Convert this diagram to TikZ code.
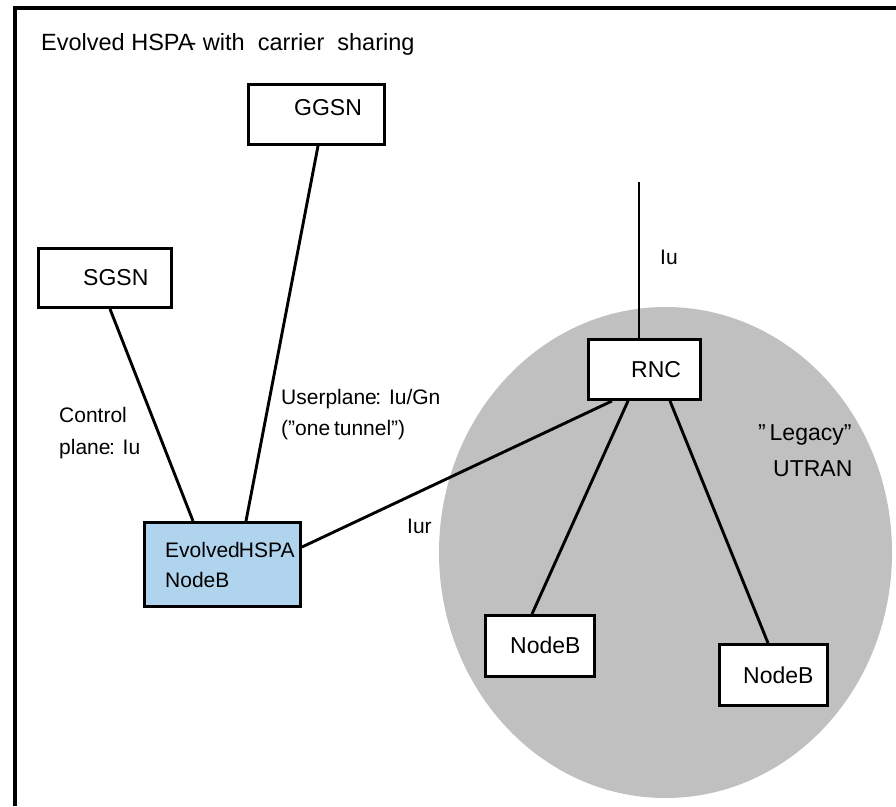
\documentclass[tikz,border=0pt]{standalone}
\usepackage{fontspec}
\setmainfont{Liberation Sans}
\begin{document}
\definecolor{enbblue}{RGB}{176,212,238}
\definecolor{utrangray}{RGB}{192,192,192}
\begin{tikzpicture}[x=1pt,y=-1pt,
  box/.style={draw=black,line width=3pt,fill=white,rectangle,inner sep=0pt},
  link/.style={draw=black,line width=2.9pt},
  nodetext/.style={anchor=base west,inner sep=0pt,font=\fontsize{23}{27}\selectfont},
  lbl/.style={anchor=base west,inner sep=0pt,font=\fontsize{21}{25}\selectfont},
  titletext/.style={anchor=base west,inner sep=0pt,font=\fontsize{23.5}{28}\selectfont}]
\useasboundingbox (0,0) rectangle (896,806);
\fill[white] (0,0) rectangle (896,806);

% outer frame (top and left borders)
\draw[line width=3.2pt] (15,806) -- (15,8) -- (896,8);

% legacy UTRAN area
\fill[utrangray] (665.5,552.5) ellipse [x radius=226.5, y radius=245.5];

\node[titletext] (title) at (41,50) {Evolved HSPA\kern-5pt- with\ \ carrier\ \ sharing};

% network elements
\node[box,minimum width=136pt,minimum height=60pt] (ggsn) at (316.5,114.5) {};
\node[box,minimum width=133pt,minimum height=59pt] (sgsn) at (105,278) {};
\node[box,fill=enbblue,minimum width=156pt,minimum height=84pt] (enb) at (222.5,564.5) {};
\node[box,minimum width=112pt,minimum height=60pt] (rnc) at (644.5,369.5) {};
\node[box,minimum width=109pt,minimum height=61pt] (nbl) at (540,646) {};
\node[box,minimum width=108pt,minimum height=61pt] (nbr) at (773.5,675) {};

\node[nodetext] (ggsnT) at (294,115) {GGSN};
\node[nodetext] (sgsnT) at (83,285) {SGSN};
\node[nodetext] (rncT) at (631,377) {RNC};
\node[nodetext] (nblT) at (510,653) {NodeB};
\node[nodetext] (nbrT) at (743,683) {NodeB};
\node[lbl] (enbT1) at (165,557.5) {Evolved\kern-1pt HSPA};
\node[lbl] (enbT2) at (165,587.5) {NodeB};

% connectors
\coordinate (core) at (639,182);
\draw[link] ([xshift=5pt]sgsn.south) -- ([xshift=-29.5pt]enb.north);
\draw[link] ([xshift=1.5pt]ggsn.south) -- ([xshift=23.5pt]enb.north);
\draw[link] ([yshift=17.5pt]enb.east) -- ([xshift=-32.5pt]rnc.south);
\draw[link] (core) -- ([xshift=-5.5pt]rnc.north);
\draw[link] ([xshift=-16.5pt]rnc.south) -- ([xshift=-8pt]nbl.north);
\draw[link] ([xshift=25.5pt]rnc.south) -- ([xshift=-5.5pt]nbr.north);

% interface labels
\node[lbl] (iuL) at (660,264.5) {Iu};
\node[lbl] (ctl1) at (59,422.5) {Control};
\node[lbl] (ctl2) at (59,454.5) {plane\kern-1.5pt: Iu};
\node[lbl] (up1) at (281,404.5) {Userplane\kern-1.5pt: Iu/Gn};
\node[lbl] (up2) at (281,435.5) {(”one\kern-2pt\ tunnel”)};
\node[lbl] (iurL) at (407,533.5) {Iur};
\node[nodetext] (leg1) at (758,440) {”\,Legacy”};
\node[nodetext] (leg2) at (773,476) {UTRAN};
\end{tikzpicture}
\end{document}
